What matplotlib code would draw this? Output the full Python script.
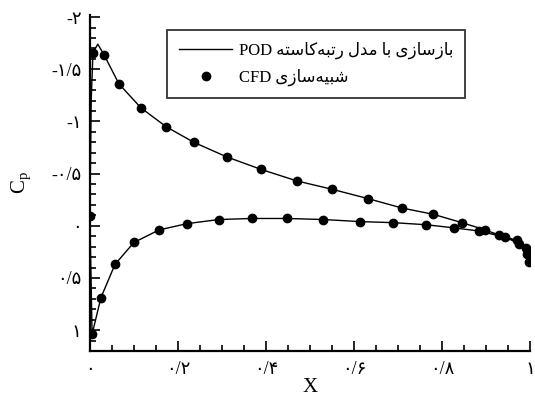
import matplotlib
matplotlib.use("Agg")
import matplotlib.pyplot as plt
from matplotlib.ticker import MultipleLocator

# CFD points (upper surface, from leading edge to trailing edge)
x_cfd_upper = [0.007, 0.032, 0.066, 0.116, 0.173, 0.236, 0.311, 0.389, 0.47, 0.55,
               0.632, 0.709, 0.78, 0.845, 0.898, 0.93, 0.97, 0.99, 0.998]
cp_cfd_upper = [-1.66, -1.64, -1.36, -1.13, -0.95, -0.80, -0.66, -0.54, -0.43, -0.35,
                -0.26, -0.17, -0.11, -0.03, 0.04, 0.09, 0.14, 0.21, 0.35]

# CFD points (stagnation + lower surface)
x_cfd_lower = [0.0, 0.005, 0.025, 0.057, 0.10, 0.157, 0.22, 0.293, 0.368, 0.448, 0.53,
               0.614, 0.689, 0.764, 0.827, 0.884, 0.943, 0.975, 0.993]
cp_cfd_lower = [-0.09, 1.04, 0.69, 0.37, 0.16, 0.04, -0.02, -0.06, -0.07, -0.07, -0.06,
                -0.04, -0.03, -0.01, 0.02, 0.05, 0.11, 0.17, 0.27]

# POD reconstruction (one contour: lower TE -> LE -> upper TE)
x_pod = [0.998, 0.993, 0.975, 0.943, 0.884, 0.827, 0.764, 0.689, 0.614, 0.53, 0.448,
         0.368, 0.293, 0.22, 0.157, 0.10, 0.057, 0.025, 0.005, 0.0, 0.003, 0.007,
         0.018, 0.032, 0.066, 0.116, 0.173, 0.236, 0.311, 0.389, 0.47, 0.55, 0.632,
         0.709, 0.78, 0.845, 0.898, 0.93, 0.97, 0.99, 0.998]
cp_pod = [0.35, 0.27, 0.17, 0.11, 0.05, 0.02, -0.01, -0.03, -0.04, -0.06, -0.07,
          -0.07, -0.06, -0.02, 0.04, 0.16, 0.37, 0.69, 1.04, -0.09, -1.2, -1.66,
          -1.74, -1.64, -1.36, -1.13, -0.95, -0.80, -0.66, -0.54, -0.43, -0.35, -0.26,
          -0.17, -0.11, -0.03, 0.04, 0.09, 0.14, 0.21, 0.35]

x_ticks = [0, 0.2, 0.4, 0.6, 0.8, 1.0]
x_ticklabels = ["۰", "۰/۲", "۰/۴", "۰/۶", "۰/۸", "۱"]
y_ticks = [-2, -1.5, -1, -0.5, 0, 0.5, 1]
y_ticklabels = ["-۲", "-۱/۵", "-۱", "-۰/۵", "۰", "۰/۵", "۱"]

label_pod = "بازسازی با مدل رتبه‌کاسته"
label_cfd = "شبیه‌سازی"

# arabic letter forms: isolated, final, initial, medial
FORMS = {
    'ا': ('\uFE8D', '\uFE8E', None, None),
    'ب': ('\uFE8F', '\uFE90', '\uFE91', '\uFE92'),
    'ت': ('\uFE95', '\uFE96', '\uFE97', '\uFE98'),
    'د': ('\uFEA9', '\uFEAA', None, None),
    'ر': ('\uFEAD', '\uFEAE', None, None),
    'ز': ('\uFEAF', '\uFEB0', None, None),
    'س': ('\uFEB1', '\uFEB2', '\uFEB3', '\uFEB4'),
    'ش': ('\uFEB5', '\uFEB6', '\uFEB7', '\uFEB8'),
    'ل': ('\uFEDD', '\uFEDE', '\uFEDF', '\uFEE0'),
    'م': ('\uFEE1', '\uFEE2', '\uFEE3', '\uFEE4'),
    'ه': ('\uFEE9', '\uFEEA', '\uFEEB', '\uFEEC'),
    'ی': ('\uFEEF', '\uFEF0', '\uFEF3', '\uFEF4'),
    'ک': ('\uFB8E', '\uFB8F', '\uFB90', '\uFB91'),
}


def shape(text):
    out = []
    for i, ch in enumerate(text):
        if ch not in FORMS:
            out.append(ch)
            continue
        f = FORMS[ch]
        prev = text[i - 1] if i > 0 else ''
        nxt = text[i + 1] if i + 1 < len(text) else ''
        jp = prev in FORMS and FORMS[prev][2] is not None
        jn = nxt in FORMS and f[2] is not None
        if jp and jn:
            out.append(f[3])
        elif jp:
            out.append(f[1])
        elif jn:
            out.append(f[2])
        else:
            out.append(f[0])
    return ''.join(out).replace('\u200c', '')[::-1]


fonts = ['Liberation Serif', 'DejaVu Sans']
plt.rcParams['font.family'] = fonts

fig = plt.figure(figsize=(5.35, 4), dpi=100)
ax = fig.add_axes([0.168, 0.1225, 0.823, 0.84])

ax.plot(x_pod, cp_pod, color='black', lw=1.0, label="POD " + shape(label_pod))
ax.plot(x_cfd_upper + x_cfd_lower, cp_cfd_upper + cp_cfd_lower, 'o', color='black',
        ms=6, ls='none', label="CFD " + shape(label_cfd))

ax.set_xlim(0, 1)
ax.set_ylim(1.2, -2.02)
ax.set_xticks(x_ticks)
ax.set_xticklabels(x_ticklabels)
ax.set_yticks(y_ticks)
ax.set_yticklabels(y_ticklabels)
ax.xaxis.set_minor_locator(MultipleLocator(0.05))
ax.yaxis.set_minor_locator(MultipleLocator(0.1))
ax.tick_params(which='both', direction='in', labelsize=13, width=1.2)
ax.tick_params(which='major', length=7)
ax.tick_params(which='minor', length=4)
ax.tick_params(axis='x', pad=7)
ax.tick_params(axis='y', pad=6)

for s in ['top', 'right']:
    ax.spines[s].set_visible(False)
for s in ['left', 'bottom']:
    ax.spines[s].set_linewidth(1.6)

ax.set_xlabel("X", fontsize=15, labelpad=0)
ax.set_ylabel(r"$\mathregular{C_p}$", fontsize=15, labelpad=13)

leg = ax.legend(loc='upper left', bbox_to_anchor=(0.157, 0.979), fancybox=False,
                fontsize=12, handlelength=3.2, handletextpad=0.4, borderpad=0.7,
                labelspacing=0.55, framealpha=1)
leg.get_frame().set_edgecolor('#333333')
leg.get_frame().set_linewidth(1.3)

plt.savefig("out.png", dpi=100)
